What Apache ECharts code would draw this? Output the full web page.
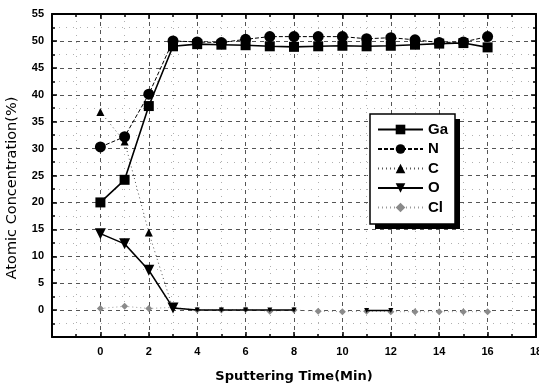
<!DOCTYPE html>
<html>
<head>
<meta charset="utf-8">
<script src="https://cdn.jsdelivr.net/npm/echarts@6/dist/echarts.min.js"></script>
<style>
  html, body { margin: 0; padding: 0; background: #fff; }
  #chart { width: 539px; height: 385px; }
</style>
</head>
<body>
<div id="chart"></div>
<script>
// Sputtering time points (min)
const times = [0, 1, 2, 3, 4, 5, 6, 7, 8, 9, 10, 11, 12, 13, 14, 15, 16];

// Atomic concentrations (%) per element
const ga = [20.0, 24.2, 37.9, 49.0, 49.4, 49.3, 49.2, 49.0, 48.9, 49.0, 49.1, 49.0, 49.1, 49.3, 49.5, 49.6, 48.8];
const n  = [30.3, 32.2, 40.1, 50.0, 49.8, 49.7, 50.3, 50.8, 50.8, 50.8, 50.8, 50.4, 50.6, 50.2, 49.7, 49.8, 50.8];
const c  = [36.8, 31.3, 14.4, 0.2, null, null, null, null, null, null, null, null, null, null, null, null, null];
const o  = [14.2, 12.3, 7.4, 0.4, 0.0, 0.0, 0.0, 0.0, 0.0, null, null, -0.1, -0.1, null, null, null, null];
const cl = [0.3, 0.7, 0.3, 0.5, 0.0, 0.0, 0.1, -0.2, 0.0, -0.2, -0.3, -0.2, -0.3, -0.3, -0.3, -0.3, -0.3];

const xTicks = { min: -2, max: 18, step: 2 };
const yTicks = { min: -5, max: 55, step: 5 };

const xTitle = 'Sputtering Time(Min)';
const yTitle = 'Atomic Concentration(%)';

const FONT = '"Liberation Sans", Arial, sans-serif';
const WIDE_FONT = '"DejaVu Sans", "Liberation Sans", sans-serif';

function pairs(vals) {
  return times.map((t, i) => [t, vals[i]]);
}

const chart = echarts.init(document.getElementById('chart'), null, { renderer: 'canvas' });

const frameLine = { show: true, onZero: false, lineStyle: { color: '#000', width: 2 } };
const majorGrid = { show: true, lineStyle: { color: '#555', width: 1, type: [4, 4] } };
const minorGrid = { show: true, lineStyle: { color: '#b0b0b0', width: 1, type: [1, 6] } };

function xAxisDef(pos, main) {
  return {
    type: 'value', position: pos,
    min: xTicks.min, max: xTicks.max, interval: xTicks.step,
    axisLine: frameLine,
    axisTick: { show: true, inside: true, length: 5, lineStyle: { color: '#000', width: 1.5 } },
    minorTick: { show: true, splitNumber: 2, length: 3, lineStyle: { color: '#000', width: 1.5 } },
    axisLabel: main ? {
      show: true, color: '#000', fontFamily: FONT, fontWeight: 'bold', fontSize: 11, margin: 9,
      formatter: v => (v === xTicks.min ? '' : String(v))
    } : { show: false },
    splitLine: main ? majorGrid : { show: false },
    minorSplitLine: main ? minorGrid : { show: false },
    name: main ? xTitle : '',
    nameLocation: 'middle', nameGap: 33,
    nameTextStyle: { color: '#000', fontFamily: WIDE_FONT, fontWeight: 'bold', fontSize: 13 }
  };
}

function yAxisDef(pos, main) {
  return {
    type: 'value', position: pos,
    min: yTicks.min, max: yTicks.max, interval: yTicks.step,
    axisLine: frameLine,
    axisTick: { show: true, inside: true, length: 5, lineStyle: { color: '#000', width: 1.5 } },
    minorTick: { show: true, splitNumber: 2, length: 3, lineStyle: { color: '#000', width: 1.5 } },
    axisLabel: main ? {
      show: true, color: '#000', fontFamily: FONT, fontWeight: 'bold', fontSize: 11, margin: 8,
      formatter: v => (v === yTicks.min ? '' : String(v))
    } : { show: false },
    splitLine: main ? majorGrid : { show: false },
    minorSplitLine: main ? minorGrid : { show: false }
  };
}

// Legend frame with a solid drop shadow
const legendBox = { x: 370, y: 114, w: 85, h: 110, shadow: 5 };

const option = {
  backgroundColor: '#fff',
  animation: false,
  grid: { left: 52, right: 3, top: 14, bottom: 48, containLabel: false, outerBoundsMode: 'none' },
  xAxis: [xAxisDef('bottom', true), xAxisDef('top', false)],
  yAxis: [yAxisDef('left', true), yAxisDef('right', false)],
  graphic: [
    {
      type: 'text',
      rotation: Math.PI / 2,
      x: 12, y: 188,
      style: {
        text: yTitle, fill: '#000',
        font: '14.5px ' + WIDE_FONT,
        align: 'center', verticalAlign: 'middle'
      }
    },
    {
      type: 'rect', z: 8,
      shape: { x: legendBox.x + legendBox.shadow, y: legendBox.y + legendBox.shadow, width: legendBox.w, height: legendBox.h },
      style: { fill: '#000' }
    },
    {
      type: 'rect', z: 9,
      shape: { x: legendBox.x, y: legendBox.y, width: legendBox.w, height: legendBox.h },
      style: { fill: '#fff', stroke: '#000', lineWidth: 1.5 }
    }
  ],
  legend: {
    orient: 'vertical',
    left: 372, top: 116,
    padding: [6, 7, 5, 5],
    itemWidth: 45, itemHeight: 12, itemGap: 4.5,
    z: 12,
    textStyle: { color: '#000', fontFamily: FONT, fontSize: 15, fontWeight: 'bold' },
    data: ['Ga', 'N', 'C', 'O', 'Cl']
  },
  series: [
    {
      name: 'Cl', type: 'line', data: pairs(cl),
      symbol: 'diamond', symbolSize: 7,
      itemStyle: { color: '#8a8a8a' },
      lineStyle: { color: '#999', width: 1, type: [1, 3] },
      z: 2
    },
    {
      name: 'O', type: 'line', data: pairs(o), connectNulls: false,
      symbol: 'triangle', symbolRotate: 180,
      symbolSize: (v, p) => (p.dataIndex < 4 ? 11 : 5),
      itemStyle: { color: '#000' },
      lineStyle: { color: '#000', width: 1.5 },
      z: 3
    },
    {
      name: 'C', type: 'line', data: pairs(c), connectNulls: false,
      symbol: 'triangle', symbolSize: (v, p) => (p.dataIndex < 3 ? 8 : 0),
      itemStyle: { color: '#000' },
      lineStyle: { color: '#555', width: 1, type: [1, 3] },
      z: 3
    },
    {
      name: 'N', type: 'line', data: pairs(n),
      symbol: 'circle', symbolSize: 11,
      itemStyle: { color: '#000' },
      lineStyle: { color: '#000', width: 1, type: [4, 2] },
      z: 4
    },
    {
      name: 'Ga', type: 'line', data: pairs(ga),
      symbol: 'rect', symbolSize: 10,
      itemStyle: { color: '#000' },
      lineStyle: { color: '#000', width: 1.6 },
      z: 5
    }
  ]
};

chart.setOption(option);
</script>
</body>
</html>
